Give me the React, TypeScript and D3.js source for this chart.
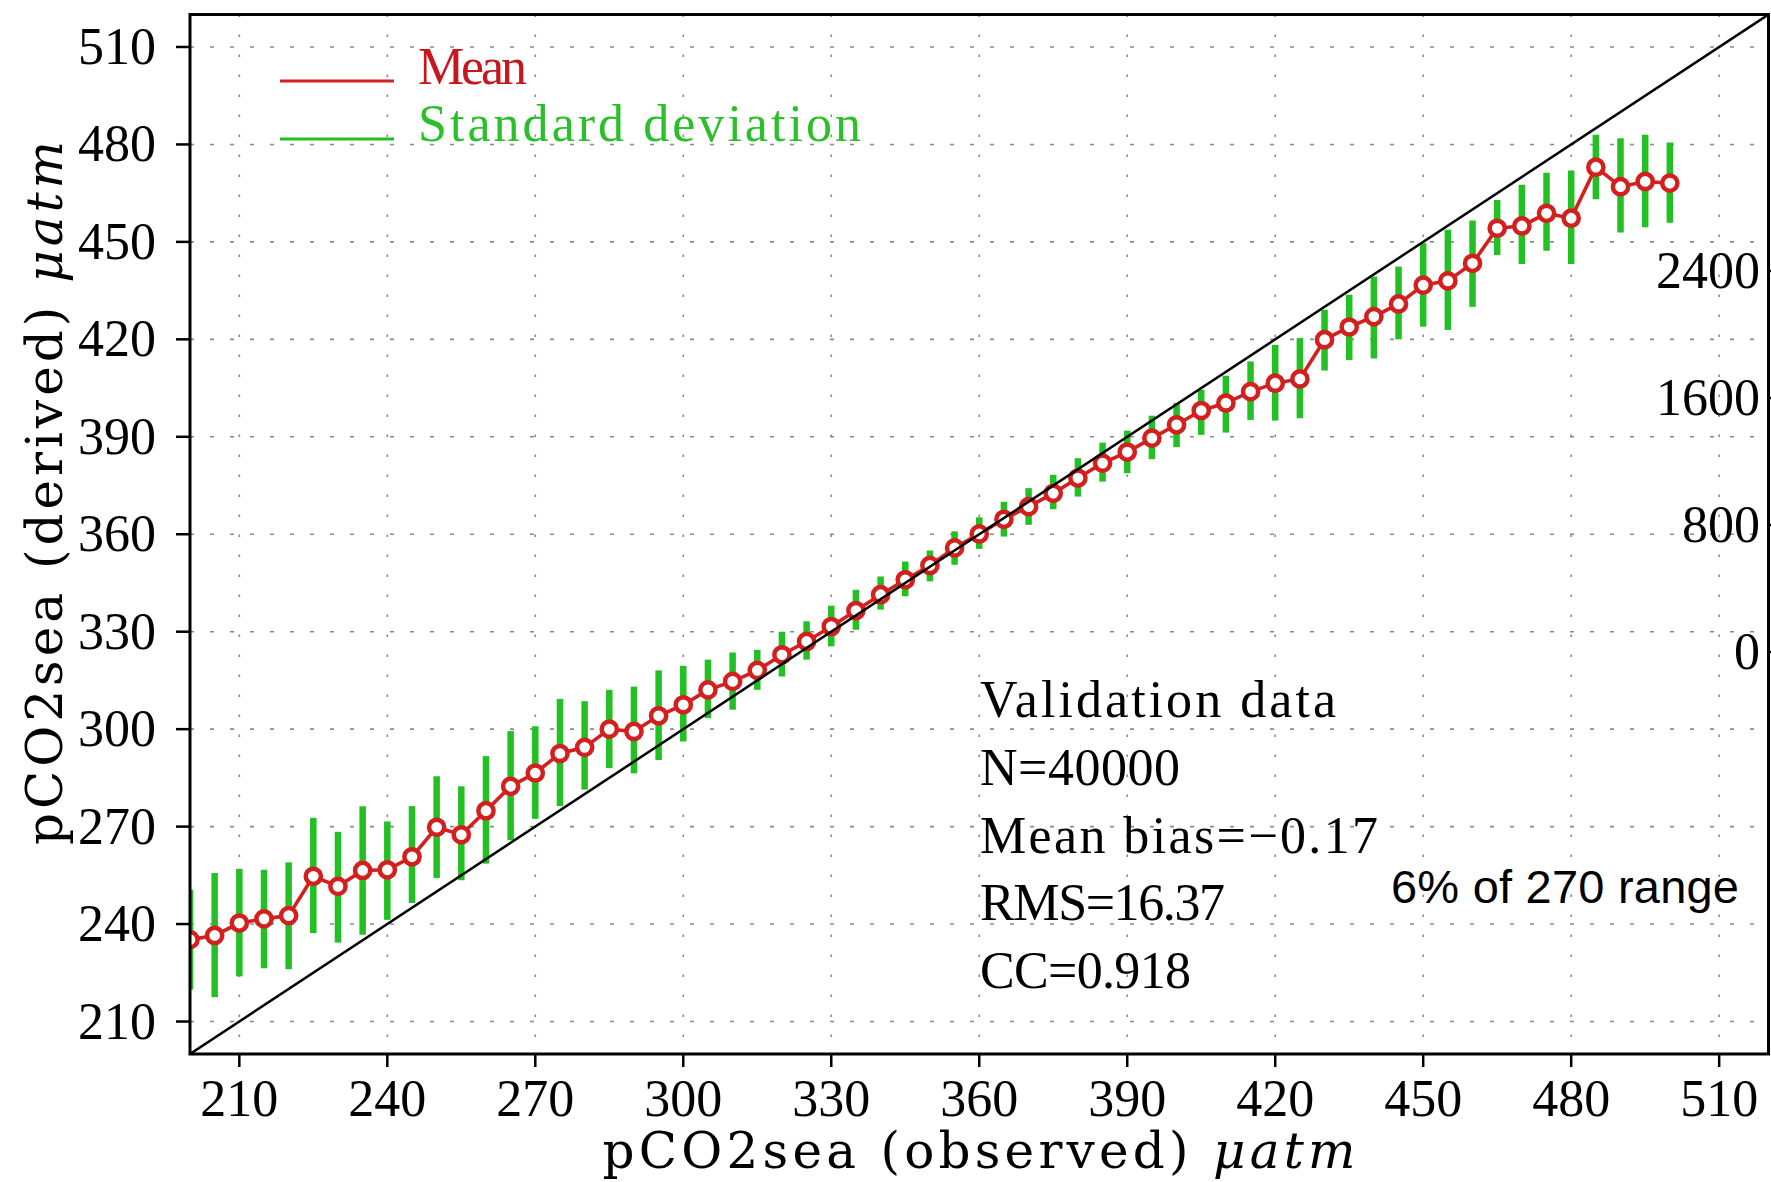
import React from 'react';
import * as d3 from 'd3';

// ---- data ----
const observedBins = [
  200, 205, 210, 215, 220, 225, 230, 235, 240, 245,
  250, 255, 260, 265, 270, 275, 280, 285, 290, 295,
  300, 305, 310, 315, 320, 325, 330, 335, 340, 345,
  350, 355, 360, 365, 370, 375, 380, 385, 390, 395,
  400, 405, 410, 415, 420, 425, 430, 435, 440, 445,
  450, 455, 460, 465, 470, 475, 480, 485, 490, 495, 500,
];
const derivedMean = [
  235.2, 236.5, 240.3, 241.6, 242.6, 254.7, 251.6, 256.5, 256.7, 260.7,
  269.8, 267.5, 274.9, 282.4, 286.5, 292.5, 294.4, 300.0, 299.3, 304.1,
  307.5, 312.1, 314.7, 318.1, 322.9, 327.0, 331.6, 336.5, 341.4, 346.0,
  350.4, 355.8, 360.1, 364.6, 368.5, 372.6, 377.3, 381.9, 385.3, 389.6,
  393.7, 398.1, 400.4, 403.9, 406.5, 407.8, 419.9, 423.8, 427.0, 430.9,
  436.7, 438.0, 443.4, 454.2, 454.9, 458.8, 457.3, 473.0, 467.0, 468.6, 468.1,
];
const stdUpper = [
  250.6, 255.7, 257.0, 256.7, 259.0, 272.7, 268.4, 276.3, 271.6, 276.3,
  285.5, 282.4, 291.7, 299.4, 300.9, 309.3, 308.6, 312.1, 313.1, 318.1,
  319.5, 321.4, 323.6, 324.4, 330.0, 333.2, 338.0, 342.9, 347.0, 351.6,
  355.0, 360.9, 365.2, 370.0, 374.2, 378.3, 383.4, 388.2, 391.9, 396.5,
  400.4, 404.5, 408.8, 413.2, 418.3, 420.4, 429.1, 433.7, 439.3, 442.4,
  449.6, 453.7, 456.6, 462.9, 467.6, 471.3, 472.0, 483.0, 481.9, 483.0, 480.6,
];
const stdLower = [
  219.8, 217.5, 223.9, 226.4, 226.1, 237.2, 234.3, 236.7, 241.3, 246.5,
  254.2, 253.5, 258.6, 265.8, 272.4, 276.3, 281.4, 288.0, 286.4, 290.5,
  296.2, 303.4, 306.0, 312.1, 316.2, 321.4, 325.5, 330.6, 336.8, 340.9,
  345.5, 350.6, 355.5, 359.3, 362.9, 367.7, 371.6, 376.2, 378.8, 383.1,
  386.8, 390.6, 391.3, 395.2, 395.0, 395.7, 410.4, 413.6, 414.1, 420.0,
  423.9, 422.9, 430.0, 446.0, 443.2, 447.3, 443.2, 463.1, 452.9, 454.5, 455.9,
];
const axisDomain = [200, 520];
const xTickValues = [210, 240, 270, 300, 330, 360, 390, 420, 450, 480, 510];
const yTickValues = [210, 240, 270, 300, 330, 360, 390, 420, 450, 480, 510];
const countTickValues = [0, 800, 1600, 2400];
const legendLabels = ['Mean', 'Standard deviation'];
const statsLines = ['Validation data', 'N=40000', 'Mean bias=\u22120.17', 'RMS=16.37', 'CC=0.918'];
const noteText = '6% of 270 range';
const xTitle = 'pCO2sea (observed) ';
const yTitle = 'pCO2sea (derived) ';
const unitText = '\u03bcatm';

export default function App() {
  const W = 1771;
  const H = 1182;
  const left = 190, right = 1768.5, top = 14.5, bottom = 1054;
  const x = d3.scaleLinear().domain(axisDomain).range([left, right]);
  const y = d3.scaleLinear().domain(axisDomain).range([bottom, top]);
  const yCount = d3.scaleLinear().domain([0, 2400]).range([652, 271]);

  const serif = "'Liberation Serif', 'Times New Roman', serif";
  const wideSerif = "'DejaVu Serif', 'Liberation Serif', serif";
  const sans = "'Liberation Sans', Arial, sans-serif";
  const red = '#d41f1f';
  const green = '#22c022';

  const pts = observedBins.map((o, i) => ({ o, m: derivedMean[i], hi: stdUpper[i], lo: stdLower[i] }));
  const line = d3.line<any>().x((d) => x(d.o)).y((d) => y(d.m));

  const statsWidths = [356, 200, 398, 245, 211];

  return (
    <svg width={W} height={H} style={{ position: 'absolute', left: 0, top: 0, background: '#fff' }}>
      <defs>
        <clipPath id="plotClip">
          <rect x={left} y={top} width={right - left} height={bottom - top} />
        </clipPath>
      </defs>
      <rect x={0} y={0} width={W} height={H} fill="#fff" />

      {/* grid */}
      <g stroke="#8a8a8a" strokeWidth={1.6}>
        {yTickValues.map((v) => (
          <line key={'gy' + v} x1={left} x2={right} y1={y(v)} y2={y(v)} strokeDasharray="4,16" />
        ))}
        {xTickValues.map((v) => (
          <line key={'gx' + v} x1={x(v)} x2={x(v)} y1={top} y2={bottom} strokeDasharray="2.5,17.5" />
        ))}
      </g>

      <g clipPath="url(#plotClip)">
        {/* std dev bars */}
        {pts.map((d) => (
          <line key={'b' + d.o} x1={x(d.o)} x2={x(d.o)} y1={y(d.hi)} y2={y(d.lo)} stroke={green} strokeWidth={6.5} />
        ))}
        {/* mean line */}
        <path d={line(pts) || ''} fill="none" stroke={red} strokeWidth={3.6} />
        {pts.map((d) => (
          <circle key={'c' + d.o} cx={x(d.o)} cy={y(d.m)} r={7.6} fill="#fff" stroke={red} strokeWidth={4.5} />
        ))}
        {/* 1:1 line */}
        <line x1={x(axisDomain[0])} y1={y(axisDomain[0])} x2={x(axisDomain[1])} y2={y(axisDomain[1])} stroke="#000" strokeWidth={2.5} />
      </g>

      {/* frame */}
      <rect x={left} y={top} width={right - left} height={bottom - top} fill="none" stroke="#000" strokeWidth={3} />

      {/* ticks */}
      <g stroke="#000" strokeWidth={2.5}>
        {xTickValues.map((v) => (
          <line key={'tx' + v} x1={x(v)} x2={x(v)} y1={bottom} y2={bottom + 13} />
        ))}
        {yTickValues.map((v) => (
          <line key={'ty' + v} x1={left - 14} x2={left} y1={y(v)} y2={y(v)} />
        ))}
        {countTickValues.map((v) => (
          <line key={'tc' + v} x1={right} x2={right + 6} y1={yCount(v)} y2={yCount(v)} />
        ))}
      </g>

      {/* tick labels */}
      <g fontFamily={serif} fontSize={52} fill="#000">
        {xTickValues.map((v) => (
          <text key={'lx' + v} x={x(v)} y={bottom + 62} textAnchor="middle">{v}</text>
        ))}
        {yTickValues.map((v) => (
          <text key={'ly' + v} x={156} y={y(v) + 17} textAnchor="end">{v}</text>
        ))}
        {countTickValues.map((v) => (
          <text key={'lc' + v} x={1760} y={yCount(v) + 17} textAnchor="end">{v}</text>
        ))}
      </g>

      {/* axis titles */}
      <text x={979} y={1168} textAnchor="middle" fontFamily={wideSerif} fontSize={50} textLength={753} lengthAdjust="spacing">
        {xTitle}<tspan fontStyle="italic">{unitText}</tspan>
      </text>
      <text transform="translate(62,493) rotate(-90)" x={0} y={0} textAnchor="middle" fontFamily={wideSerif} fontSize={50} textLength={704} lengthAdjust="spacing">
        {yTitle}<tspan fontStyle="italic">{unitText}</tspan>
      </text>

      {/* legend */}
      <line x1={280} x2={394} y1={81} y2={81} stroke={red} strokeWidth={3} />
      <text x={418} y={84} fontFamily={serif} fontSize={52} fill="#c8161e" textLength={109} lengthAdjust="spacing">{legendLabels[0]}</text>
      <line x1={280} x2={394} y1={139} y2={139} stroke={green} strokeWidth={3} />
      <text x={418} y={141} fontFamily={serif} fontSize={52} fill="#2cbf2c" textLength={443} lengthAdjust="spacing">{legendLabels[1]}</text>

      {/* stats */}
      {statsLines.map((s, i) => (
        <text key={'s' + i} x={980} y={717 + i * 67.8} fontFamily={serif} fontSize={52} fill="#000" textLength={statsWidths[i]} lengthAdjust="spacing">{s}</text>
      ))}
      <text x={1391} y={903} fontFamily={sans} fontSize={47} fill="#000" textLength={348} lengthAdjust="spacing">{noteText}</text>
    </svg>
  );
}
